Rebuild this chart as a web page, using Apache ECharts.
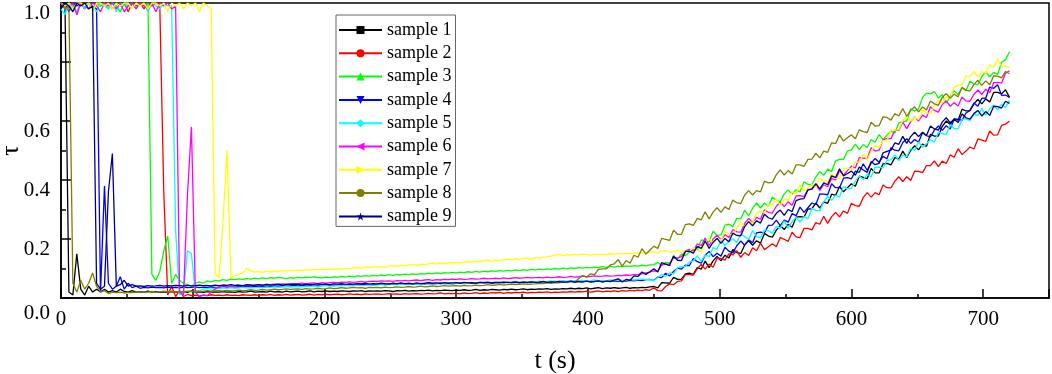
<!DOCTYPE html>
<html><head><meta charset="utf-8">
<script src="https://cdn.jsdelivr.net/npm/echarts@6/dist/echarts.min.js"></script>
<style>html,body{margin:0;padding:0;background:#fff}#c{width:1052px;height:374px}</style>
</head><body><div id="c"></div>
<script>
const times = [
0,3,6,9,12,15,18,21,24,27,
30,33,36,39,42,45,48,51,54,57,
60,63,66,69,72,75,78,81,84,87,
90,93,96,99,102,105,108,111,114,117,
120,123,126,129,132,135,138,141,144,147,
150,153,156,159,162,165,168,171,174,177,
180,183,186,189,192,195,198,201,204,207,
210,213,216,219,222,225,228,231,234,237,
240,243,246,249,252,255,258,261,264,267,
270,273,276,279,282,285,288,291,294,297,
300,303,306,309,312,315,318,321,324,327,
330,333,336,339,342,345,348,351,354,357,
360,363,366,369,372,375,378,381,384,387,
390,393,396,399,402,405,408,411,414,417,
420,423,426,429,432,435,438,441,444,447,
450,453,456,459,462,465,468,471,474,477,
480,483,486,489,492,495,498,501,504,507,
510,513,516,519,522,525,528,531,534,537,
540,543,546,549,552,555,558,561,564,567,
570,573,576,579,582,585,588,591,594,597,
600,603,606,609,612,615,618,621,624,627,
630,633,636,639,642,645,648,651,654,657,
660,663,666,669,672,675,678,681,684,687,
690,693,696,699,702,705,708,711,714,717,
720];

const sample1 = [
0.99,1.0,0.02,0.01,0.15,0.03,0.01,0.04,0.02,0.03,
0.02,0.03,0.02,0.025,0.02,0.03,0.022,0.02,0.025,0.02,
0.021,0.02,0.023,0.02,0.022,0.019,0.021,0.02,0.022,0.021,
0.02,0.022,0.019,0.024,0.02,0.021,0.019,0.022,0.02,0.021,
0.02,0.022,0.02,0.021,0.019,0.022,0.02,0.021,0.023,0.02,
0.021,0.022,0.02,0.023,0.021,0.022,0.02,0.023,0.021,0.022,
0.023,0.021,0.022,0.024,0.021,0.023,0.022,0.024,0.022,0.023,
0.022,0.024,0.023,0.022,0.024,0.023,0.025,0.022,0.024,0.023,
0.024,0.023,0.025,0.024,0.022,0.025,0.024,0.026,0.023,0.025,
0.024,0.026,0.025,0.027,0.024,0.026,0.025,0.027,0.026,0.025,
0.027,0.026,0.028,0.026,0.027,0.029,0.026,0.028,0.027,0.029,
0.028,0.027,0.029,0.028,0.03,0.028,0.029,0.031,0.028,0.03,
0.029,0.031,0.03,0.032,0.029,0.031,0.03,0.032,0.031,0.033,
0.031,0.033,0.032,0.034,0.031,0.033,0.035,0.032,0.034,0.033,
0.035,0.033,0.034,0.036,0.033,0.035,0.034,0.036,0.035,0.038,
0.039,0.034,0.052,0.051,0.05,0.07,0.063,0.064,0.082,0.084,
0.08,0.103,0.098,0.125,0.103,0.126,0.141,0.126,0.145,0.136,
0.164,0.154,0.151,0.18,0.194,0.179,0.194,0.186,0.219,0.21,
0.206,0.23,0.246,0.232,0.25,0.24,0.274,0.276,0.274,0.301,
0.303,0.322,0.305,0.326,0.321,0.352,0.348,0.378,0.36,0.374,
0.387,0.379,0.413,0.409,0.405,0.439,0.424,0.424,0.455,0.456,
0.451,0.476,0.471,0.498,0.476,0.5,0.516,0.502,0.522,0.514,
0.555,0.549,0.549,0.582,0.6,0.588,0.607,0.603,0.64,0.634,
0.635,0.658,0.673,0.658,0.675,0.664,0.697,0.697,0.692,0.706,
0.68];

const sample2 = [
1,0.99,1,0.98,1,1,0.99,1,0.98,1,
0.99,1,1,0.98,1,0.99,1,0.97,1,0.99,
1,0.98,1,0.99,1,0.99,0.36,0.01,0.04,0.005,
0.025,0.005,0.012,0.008,0.01,0.006,0.01,0.008,0.011,0.009,
0.01,0.008,0.011,0.009,0.01,0.008,0.011,0.01,0.009,0.011,
0.009,0.011,0.01,0.012,0.009,0.011,0.01,0.012,0.01,0.011,
0.012,0.01,0.011,0.013,0.01,0.012,0.011,0.013,0.011,0.012,
0.013,0.011,0.012,0.014,0.012,0.013,0.011,0.014,0.012,0.013,
0.014,0.012,0.013,0.015,0.013,0.014,0.012,0.015,0.013,0.014,
0.015,0.013,0.014,0.016,0.014,0.015,0.017,0.014,0.016,0.015,
0.016,0.014,0.017,0.015,0.016,0.018,0.015,0.017,0.016,0.018,
0.017,0.019,0.016,0.018,0.017,0.019,0.018,0.02,0.017,0.019,
0.018,0.02,0.019,0.021,0.018,0.02,0.019,0.021,0.02,0.022,
0.02,0.022,0.021,0.023,0.02,0.022,0.024,0.021,0.023,0.022,
0.024,0.022,0.025,0.023,0.026,0.024,0.027,0.025,0.028,0.026,
0.035,0.025,0.024,0.039,0.048,0.045,0.056,0.058,0.079,0.079,
0.078,0.099,0.114,0.098,0.115,0.104,0.135,0.134,0.128,0.15,
0.146,0.16,0.138,0.154,0.144,0.17,0.16,0.186,0.164,0.174,
0.184,0.174,0.205,0.199,0.192,0.223,0.207,0.205,0.236,0.236,
0.231,0.256,0.25,0.277,0.253,0.276,0.29,0.275,0.295,0.287,
0.321,0.313,0.311,0.341,0.357,0.342,0.357,0.35,0.383,0.374,
0.373,0.396,0.411,0.395,0.411,0.398,0.43,0.429,0.425,0.449,
0.449,0.465,0.445,0.464,0.456,0.485,0.477,0.506,0.486,0.498,
0.512,0.505,0.539,0.535,0.531,0.566,0.552,0.553,0.585,0.589,
0.6];

const sample3 = [
1,0.98,1,0.99,0.97,1,0.99,1,0.98,1,
0.99,1,0.98,1,0.99,0.97,1,0.99,1,0.98,
1,0.99,1,0.08,0.06,0.09,0.16,0.21,0.05,0.08,
0.06,0.05,0.045,0.04,0.05,0.055,0.05,0.058,0.055,0.06,
0.058,0.062,0.06,0.064,0.062,0.065,0.063,0.066,0.064,0.067,
0.065,0.068,0.066,0.069,0.067,0.07,0.068,0.066,0.069,0.067,
0.07,0.068,0.071,0.069,0.072,0.07,0.068,0.071,0.069,0.072,
0.07,0.073,0.071,0.074,0.072,0.075,0.073,0.076,0.074,0.077,
0.075,0.078,0.076,0.079,0.077,0.08,0.078,0.081,0.079,0.082,
0.08,0.083,0.081,0.084,0.082,0.085,0.083,0.086,0.084,0.087,
0.085,0.088,0.086,0.089,0.087,0.09,0.088,0.091,0.089,0.092,
0.09,0.093,0.091,0.094,0.092,0.095,0.093,0.096,0.094,0.097,
0.095,0.098,0.096,0.099,0.097,0.1,0.098,0.101,0.099,0.102,
0.1,0.103,0.101,0.104,0.102,0.105,0.103,0.106,0.104,0.107,
0.105,0.108,0.106,0.109,0.107,0.11,0.108,0.111,0.109,0.112,
0.113,0.12,0.11,0.121,0.119,0.135,0.133,0.149,0.144,0.155,
0.169,0.162,0.197,0.194,0.19,0.226,0.213,0.214,0.247,0.25,
0.242,0.27,0.268,0.298,0.278,0.304,0.322,0.305,0.322,0.311,
0.342,0.331,0.326,0.353,0.366,0.352,0.367,0.36,0.394,0.385,
0.384,0.41,0.428,0.416,0.437,0.429,0.465,0.47,0.47,0.498,
0.502,0.522,0.503,0.52,0.51,0.537,0.528,0.554,0.537,0.552,
0.566,0.559,0.594,0.597,0.6,0.641,0.634,0.641,0.68,0.694,
0.692,0.7,0.678,0.69,0.66,0.684,0.702,0.69,0.712,0.703,
0.735,0.726,0.723,0.751,0.766,0.75,0.765,0.758,0.799,0.808,
0.835];

const sample4 = [
0.99,1,0.97,1,0.99,1,0.98,1,0.99,0.98,
0.02,0.38,0.05,0.03,0.04,0.072,0.03,0.05,0.035,0.04,
0.033,0.036,0.034,0.037,0.035,0.036,0.034,0.037,0.035,0.036,
0.034,0.037,0.035,0.036,0.038,0.035,0.037,0.036,0.038,0.036,
0.037,0.039,0.036,0.038,0.037,0.039,0.038,0.04,0.038,0.039,
0.04,0.038,0.041,0.039,0.041,0.04,0.042,0.04,0.041,0.043,
0.041,0.043,0.042,0.044,0.042,0.043,0.045,0.043,0.044,0.042,
0.044,0.045,0.043,0.046,0.044,0.045,0.047,0.045,0.046,0.044,
0.046,0.047,0.045,0.048,0.046,0.047,0.049,0.047,0.048,0.046,
0.048,0.049,0.047,0.05,0.048,0.049,0.051,0.049,0.05,0.048,
0.05,0.051,0.049,0.052,0.05,0.051,0.053,0.051,0.052,0.05,
0.052,0.053,0.051,0.054,0.052,0.053,0.051,0.054,0.052,0.053,
0.054,0.052,0.055,0.053,0.054,0.056,0.053,0.055,0.054,0.056,
0.054,0.056,0.055,0.057,0.055,0.056,0.058,0.055,0.057,0.056,
0.058,0.056,0.059,0.057,0.06,0.058,0.061,0.059,0.062,0.063,
0.059,0.071,0.069,0.084,0.075,0.09,0.101,0.098,0.111,0.11,
0.134,0.123,0.118,0.145,0.158,0.14,0.152,0.142,0.172,0.159,
0.153,0.177,0.193,0.179,0.197,0.187,0.221,0.223,0.221,0.246,
0.247,0.264,0.245,0.264,0.257,0.286,0.279,0.308,0.29,0.306,
0.322,0.317,0.353,0.352,0.35,0.387,0.374,0.374,0.406,0.408,
0.404,0.43,0.426,0.455,0.433,0.457,0.473,0.46,0.48,0.472,
0.509,0.501,0.499,0.527,0.54,0.524,0.537,0.529,0.56,0.55,
0.546,0.569,0.583,0.568,0.584,0.573,0.606,0.606,0.602,0.627,
0.636,0.661,0.65,0.677,0.678,0.715,0.711,0.723,0.687,0.688,
0.68];

const sample5 = [
0.98,0.96,1,0.99,0.97,1,0.98,1,0.99,0.97,
1,0.99,0.98,1,0.97,1,0.99,1,0.98,1,
0.99,1,0.97,1,0.99,0.98,1,0.99,0.99,0.23,
0.01,0.02,0.16,0.15,0.02,0.025,0.03,0.032,0.03,0.033,
0.032,0.034,0.033,0.035,0.033,0.034,0.036,0.034,0.035,0.034,
0.036,0.035,0.037,0.036,0.038,0.036,0.037,0.039,0.037,0.038,
0.039,0.038,0.04,0.039,0.041,0.039,0.04,0.042,0.04,0.041,
0.042,0.041,0.043,0.041,0.042,0.044,0.042,0.043,0.045,0.043,
0.044,0.046,0.044,0.045,0.047,0.045,0.046,0.048,0.046,0.047,
0.048,0.046,0.049,0.047,0.048,0.05,0.048,0.049,0.051,0.049,
0.05,0.052,0.05,0.051,0.053,0.051,0.052,0.054,0.052,0.053,
0.054,0.052,0.055,0.053,0.054,0.056,0.054,0.055,0.053,0.056,
0.055,0.057,0.055,0.056,0.058,0.056,0.057,0.059,0.057,0.058,
0.059,0.057,0.06,0.058,0.059,0.061,0.059,0.06,0.058,0.061,
0.06,0.062,0.06,0.061,0.063,0.061,0.062,0.064,0.062,0.063,
0.058,0.07,0.079,0.074,0.085,0.082,0.102,0.106,0.107,0.122,
0.126,0.143,0.125,0.145,0.14,0.171,0.166,0.196,0.178,0.191,
0.201,0.188,0.217,0.208,0.199,0.228,0.209,0.204,0.231,0.228,
0.22,0.243,0.236,0.262,0.237,0.259,0.273,0.257,0.276,0.269,
0.304,0.297,0.296,0.327,0.344,0.331,0.348,0.343,0.378,0.371,
0.372,0.397,0.414,0.401,0.42,0.41,0.443,0.444,0.441,0.467,
0.468,0.485,0.466,0.485,0.478,0.507,0.5,0.529,0.51,0.523,
0.537,0.529,0.562,0.558,0.554,0.588,0.574,0.574,0.605,0.607,
0.601,0.624,0.618,0.643,0.619,0.641,0.654,0.638,0.657,0.646,
0.67];

const sample6 = [
1,0.98,0.99,1,0.96,1,0.99,0.98,1,0.99,
0.97,1,0.99,1,0.98,1,0.97,0.99,1,0.98,
1,0.99,0.98,1,0.97,1,0.99,1,0.98,0.99,
0.02,0.01,0.35,0.58,0.02,0.005,0.01,0.008,0.02,0.03,
0.038,0.04,0.039,0.041,0.04,0.042,0.041,0.043,0.042,0.044,
0.045,0.044,0.046,0.045,0.047,0.046,0.048,0.047,0.049,0.048,
0.049,0.05,0.048,0.05,0.051,0.049,0.052,0.05,0.052,0.053,
0.052,0.054,0.053,0.055,0.053,0.055,0.056,0.054,0.056,0.057,
0.056,0.058,0.057,0.058,0.056,0.059,0.058,0.06,0.058,0.06,
0.061,0.059,0.061,0.062,0.06,0.062,0.061,0.063,0.062,0.064,
0.063,0.065,0.063,0.064,0.066,0.064,0.065,0.067,0.065,0.066,
0.067,0.065,0.068,0.066,0.067,0.069,0.067,0.068,0.07,0.068,
0.069,0.07,0.068,0.071,0.069,0.07,0.072,0.07,0.071,0.073,
0.071,0.072,0.074,0.072,0.073,0.075,0.073,0.074,0.076,0.074,
0.075,0.077,0.076,0.078,0.077,0.079,0.08,0.082,0.085,0.088,
0.092,0.091,0.112,0.114,0.116,0.138,0.135,0.14,0.16,0.165,
0.16,0.184,0.178,0.203,0.178,0.2,0.213,0.197,0.215,0.205,
0.232,0.224,0.223,0.253,0.27,0.256,0.273,0.267,0.299,0.29,
0.288,0.311,0.325,0.31,0.326,0.314,0.346,0.347,0.344,0.368,
0.368,0.384,0.365,0.384,0.377,0.406,0.4,0.432,0.416,0.432,
0.447,0.441,0.476,0.474,0.472,0.509,0.498,0.501,0.536,0.541,
0.54,0.569,0.568,0.596,0.574,0.598,0.614,0.6,0.62,0.612,
0.648,0.636,0.63,0.656,0.668,0.65,0.662,0.651,0.681,0.668,
0.667,0.69,0.705,0.69,0.708,0.697,0.73,0.731,0.729,0.762,
0.77];

const sample7 = [
1,0.99,1,0.98,1,1,0.99,1,0.97,1,
1,0.99,1,0.98,1,0.99,1,1,0.98,1,
0.99,1,0.98,1,1,0.99,1,0.97,1,0.99,
1,0.98,1,0.99,1,0.97,1,0.99,0.98,0.08,
0.07,0.26,0.5,0.07,0.075,0.08,0.085,0.1,0.092,0.088,
0.09,0.087,0.091,0.089,0.092,0.09,0.093,0.091,0.094,0.092,
0.095,0.093,0.096,0.094,0.097,0.095,0.098,0.096,0.099,0.097,
0.1,0.098,0.101,0.099,0.102,0.104,0.101,0.105,0.103,0.106,
0.104,0.107,0.105,0.108,0.11,0.107,0.111,0.109,0.112,0.114,
0.111,0.115,0.113,0.116,0.118,0.115,0.119,0.117,0.12,0.118,
0.121,0.119,0.122,0.124,0.121,0.125,0.123,0.126,0.128,0.125,
0.129,0.127,0.13,0.132,0.129,0.133,0.131,0.134,0.136,0.133,
0.137,0.135,0.138,0.14,0.142,0.145,0.148,0.144,0.147,0.145,
0.148,0.146,0.149,0.147,0.145,0.148,0.146,0.149,0.147,0.15,
0.148,0.151,0.149,0.152,0.15,0.153,0.151,0.154,0.152,0.155,
0.157,0.153,0.159,0.161,0.155,0.158,0.162,0.154,0.16,0.158,
0.172,0.161,0.158,0.187,0.202,0.187,0.202,0.195,0.227,0.216,
0.212,0.238,0.255,0.243,0.262,0.254,0.289,0.293,0.29,0.316,
0.317,0.334,0.316,0.336,0.33,0.36,0.354,0.384,0.363,0.374,
0.385,0.374,0.405,0.398,0.391,0.422,0.406,0.406,0.438,0.44,
0.436,0.463,0.459,0.488,0.468,0.497,0.518,0.509,0.534,0.532,
0.571,0.568,0.571,0.602,0.616,0.6,0.613,0.605,0.637,0.627,
0.625,0.651,0.671,0.661,0.683,0.677,0.715,0.721,0.723,0.752,
0.751,0.768,0.749,0.768,0.761,0.79,0.783,0.812,0.785,0.788,
0.78];

const sample8 = [
1,0.98,0.99,0.05,0.02,0.06,0.03,0.05,0.085,0.04,
0.02,0.025,0.015,0.02,0.018,0.02,0.017,0.019,0.018,0.02,
0.019,0.021,0.02,0.022,0.02,0.021,0.023,0.021,0.022,0.02,
0.022,0.021,0.023,0.022,0.024,0.022,0.023,0.025,0.023,0.024,
0.025,0.023,0.026,0.024,0.025,0.027,0.025,0.026,0.028,0.026,
0.027,0.029,0.027,0.028,0.03,0.028,0.029,0.031,0.029,0.03,
0.031,0.029,0.032,0.03,0.031,0.033,0.031,0.032,0.034,0.032,
0.033,0.035,0.033,0.034,0.036,0.034,0.035,0.033,0.036,0.035,
0.036,0.034,0.037,0.035,0.036,0.038,0.036,0.037,0.039,0.037,
0.038,0.04,0.038,0.039,0.041,0.039,0.04,0.042,0.04,0.041,
0.042,0.04,0.043,0.041,0.042,0.044,0.042,0.043,0.045,0.043,
0.044,0.046,0.044,0.045,0.047,0.045,0.046,0.048,0.046,0.047,
0.048,0.05,0.049,0.051,0.05,0.052,0.051,0.054,0.052,0.056,
0.053,0.066,0.076,0.071,0.082,0.079,0.097,0.099,0.099,0.112,
0.116,0.13,0.108,0.127,0.118,0.145,0.138,0.167,0.149,0.162,
0.176,0.168,0.202,0.199,0.195,0.23,0.216,0.216,0.249,0.251,
0.246,0.27,0.265,0.292,0.268,0.291,0.306,0.29,0.309,0.3,
0.332,0.323,0.32,0.349,0.364,0.349,0.364,0.36,0.396,0.39,
0.392,0.418,0.434,0.417,0.432,0.42,0.451,0.451,0.446,0.47,
0.471,0.491,0.475,0.498,0.494,0.526,0.523,0.553,0.532,0.543,
0.553,0.54,0.57,0.564,0.561,0.596,0.583,0.584,0.614,0.612,
0.603,0.625,0.617,0.642,0.616,0.636,0.648,0.631,0.648,0.637,
0.668,0.658,0.653,0.68,0.693,0.677,0.691,0.682,0.714,0.704,
0.702,0.724,0.738,0.721,0.736,0.723,0.753,0.752,0.746,0.768,
0.76];

const sample9 = [
0.98,1,0.99,0.97,1,0.99,1,0.98,0.99,0.05,
0.03,0.04,0.36,0.49,0.04,0.045,0.06,0.04,0.045,0.04,
0.041,0.039,0.042,0.04,0.041,0.043,0.04,0.042,0.041,0.043,
0.042,0.04,0.043,0.041,0.042,0.044,0.042,0.043,0.041,0.044,
0.042,0.044,0.043,0.045,0.043,0.044,0.042,0.045,0.044,0.043,
0.045,0.043,0.046,0.044,0.045,0.047,0.044,0.046,0.045,0.047,
0.046,0.044,0.047,0.045,0.046,0.048,0.046,0.047,0.045,0.048,
0.047,0.049,0.046,0.048,0.047,0.049,0.048,0.05,0.047,0.049,
0.048,0.05,0.049,0.047,0.05,0.048,0.051,0.049,0.05,0.048,
0.051,0.049,0.05,0.052,0.05,0.051,0.049,0.052,0.05,0.051,
0.052,0.05,0.053,0.051,0.052,0.05,0.053,0.052,0.054,0.051,
0.053,0.052,0.054,0.052,0.053,0.055,0.052,0.054,0.053,0.055,
0.053,0.054,0.056,0.053,0.055,0.054,0.056,0.054,0.055,0.057,
0.054,0.056,0.055,0.057,0.055,0.056,0.058,0.055,0.057,0.056,
0.061,0.065,0.054,0.063,0.06,0.075,0.073,0.088,0.08,0.089,
0.099,0.088,0.12,0.115,0.11,0.143,0.128,0.127,0.158,0.159,
0.152,0.175,0.168,0.193,0.168,0.189,0.202,0.185,0.202,0.191,
0.22,0.212,0.211,0.242,0.259,0.245,0.262,0.254,0.284,0.272,
0.267,0.287,0.298,0.28,0.3,0.293,0.33,0.335,0.337,0.366,
0.37,0.388,0.37,0.39,0.384,0.414,0.408,0.438,0.414,0.422,
0.43,0.416,0.444,0.434,0.426,0.463,0.452,0.456,0.492,0.497,
0.501,0.526,0.521,0.548,0.524,0.547,0.562,0.547,0.562,0.551,
0.583,0.573,0.569,0.597,0.611,0.594,0.606,0.595,0.624,0.611,
0.606,0.625,0.636,0.617,0.632,0.619,0.65,0.649,0.644,0.667,
0.66];

const seriesNames = ['sample 1','sample 2','sample 3','sample 4','sample 5','sample 6','sample 7','sample 8','sample 9'];
const seriesValues = [sample1, sample2, sample3, sample4, sample5, sample6, sample7, sample8, sample9];
const seriesColors = ['#000000','#ff0000','#00ff00','#0000ff','#00ffff','#ff00ff','#ffff00','#808000','#000080'];
const seriesSymbols = ['rect','circle','triangle','path://M0,0 L10,0 L5,10 Z','diamond','path://M10,0 L10,10 L0,5 Z','path://M0,0 L0,10 L10,5 Z','circle','path://M5,0 L6.2,3.6 L10,3.6 L6.9,5.8 L8.1,9.5 L5,7.3 L1.9,9.5 L3.1,5.8 L0,3.6 L3.8,3.6 Z'];
const xTickLabels = [0,100,200,300,400,500,600,700];
const yTickLabels = ['0.0','0.2','0.4','0.6','0.8','1.0'];

const SERIF = "'Liberation Serif','Times New Roman',serif";
const chart = echarts.init(document.getElementById('c'), null, {renderer:'canvas'});
const black = '#000';
chart.setOption({
  animation: false,
  backgroundColor: '#fff',
  grid: {left: 61, right: 3, top: 3, bottom: 76, outerBoundsMode: 'none', containLabel: false,
    show: true, borderColor: black, borderWidth: 1.5, backgroundColor: 'transparent'},
  legend: {
    orient: 'vertical', left: 336, top: 15,
    padding: [6, 4, 1, 2],
    borderColor: '#666', borderWidth: 1, backgroundColor: '#fff',
    itemWidth: 43, itemHeight: 10, itemGap: 5.3,
    textStyle: {fontFamily: SERIF, fontSize: 18, color: black, lineHeight: 18},
    data: seriesNames
  },
  xAxis: [{
    type: 'value', min: 0, max: 750, interval: 50,
    name: 't (s)', nameLocation: 'middle', nameGap: 50,
    nameTextStyle: {fontFamily: SERIF, fontSize: 26, color: black},
    axisLine: {show: true, lineStyle: {color: black, width: 1.5}},
    axisTick: {show: true, inside: true, length: 4, lineStyle: {color: black, width: 1.5}},
    axisLabel: {fontFamily: SERIF, fontSize: 21, color: black, margin: 11,
      formatter: v => xTickLabels.indexOf(v) >= 0 ? String(v) : ''},
    splitLine: {show: false}
  }, {
    type: 'value', min: 0, max: 750, interval: 100, position: 'bottom',
    axisLine: {show: false},
    axisTick: {show: true, inside: true, length: 9, lineStyle: {color: black, width: 1.5}},
    axisLabel: {show: false},
    splitLine: {show: false}
  }],
  yAxis: {
    type: 'value', min: 0, max: 1, interval: 0.2,
    name: 'τ', nameLocation: 'middle', nameGap: 37, nameMoveOverlap: false,
    nameTextStyle: {fontFamily: SERIF, fontSize: 26, color: black},
    axisLine: {show: true, lineStyle: {color: black, width: 1.5}},
    axisTick: {show: true, inside: true, length: 10, lineStyle: {color: black, width: 1.5}},
    minorTick: {show: true, splitNumber: 2, length: 5, lineStyle: {color: black, width: 1.5}},
    axisLabel: {color: black, margin: 11, verticalAlign: 'top',
      formatter: v => {
        const s = yTickLabels[Math.round(v / 0.2)];
        return v === 0 ? '{z|' + s + '}' : '{a|' + s + '}';
      },
      rich: {
        a: {fontFamily: SERIF, fontSize: 21, color: black, lineHeight: 21},
        z: {fontFamily: SERIF, fontSize: 21, color: black, lineHeight: 21, padding: [9, 0, 0, 0]}
      }
    },
    splitLine: {show: false}
  },
  series: seriesNames.map((name, k) => ({
    name: name, type: 'line', xAxisIndex: 0,
    data: times.map((t, i) => [t, seriesValues[k][i]]),
    showSymbol: false, symbol: seriesSymbols[k], symbolSize: 8,
    color: seriesColors[k],
    lineStyle: {color: seriesColors[k], width: 1.3},
    itemStyle: {color: seriesColors[k]},
    emphasis: {disabled: true}
  }))
});
</script></body></html>
